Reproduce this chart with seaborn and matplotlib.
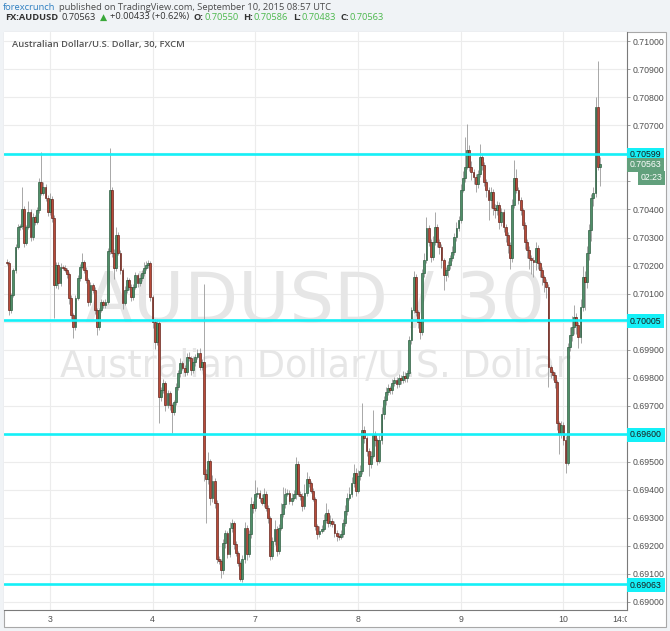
import numpy as np
import pandas as pd
import matplotlib
matplotlib.use("Agg")
import matplotlib.pyplot as plt
import seaborn as sns
from matplotlib.patches import Rectangle
from matplotlib.transforms import Bbox, TransformedBbox
from matplotlib.ticker import FuncFormatter

# ---------------- data (prices in 1e-5 units) ----------------
first_open_pts = 70212
close_pts = [
    70209, 70041, 70095, 70184, 70267, 70338, 70342, 70403, 70281, 70338,
    70392, 70302, 70374, 70356, 70399, 70499, 70460, 70482, 70442, 70392,
    70439, 70371, 70131, 70202, 70138, 70195, 70193, 70184, 70170, 70084,
    70023, 69980, 70084, 70156, 70195, 70213, 70184, 70149, 70070, 70131,
    70113, 70041, 69980, 70041, 70070, 70059, 70070, 70252, 70471, 70245,
    70192, 70310, 70245, 70184, 70066, 70113, 70149, 70123, 70088, 70123,
    70166, 70138, 70156, 70174, 70192, 70202, 70209, 70088, 69998, 69927,
    69995, 69730, 69755, 69780, 69701, 69744, 69701, 69676, 69712, 69766,
    69816, 69851, 69834, 69819, 69873, 69869, 69826, 69855, 69873, 69887,
    69837, 69855, 69458, 69440, 69501, 69372, 69433, 69354, 69153, 69146,
    69114, 69211, 69246, 69171, 69264, 69282, 69207, 69175, 69139, 69082,
    69153, 69264, 69171, 69243, 69350, 69336, 69386, 69390, 69372, 69354,
    69386, 69336, 69300, 69164, 69218, 69261, 69182, 69264, 69314, 69350,
    69386, 69388, 69361, 69372, 69386, 69493, 69386, 69379, 69343, 69390,
    69440, 69425, 69397, 69368, 69271, 69243, 69254, 69261, 69293, 69318,
    69282, 69289, 69279, 69246, 69236, 69232, 69243, 69282, 69325, 69372,
    69386, 69425, 69461, 69397, 69450, 69468, 69612, 69583, 69540, 69493,
    69522, 69594, 69576, 69504, 69576, 69672, 69719, 69748, 69762, 69755,
    69780, 69791, 69776, 69798, 69791, 69805, 69798, 69816, 69934, 70041,
    70159, 70034, 69998, 69962, 70174, 70220, 70335, 70285, 70231, 70285,
    70338, 70285, 70267, 70220, 70166, 70184, 70202, 70227, 70249, 70302,
    70335, 70363, 70471, 70514, 70553, 70614, 70553, 70535, 70517, 70492,
    70525, 70586, 70560, 70499, 70471, 70435, 70464, 70406, 70399, 70417,
    70356, 70392, 70338, 70310, 70274, 70227, 70417, 70514, 70471, 70435,
    70399, 70345, 70285, 70256, 70227, 70220, 70213, 70263, 70209, 70184,
    70159, 70141, 70123, 69837, 69819, 69808, 69783, 69637, 69604, 69630,
    69576, 69497, 69909, 69952, 69980, 70016, 69987, 69944, 70052, 70159,
    70141, 70245, 70328, 70442, 70460, 70764, 70550, 70563,
]
upper_wick_pts = [
    10, 8, 6, 8, 10, 12, 8, 79, 10, 8,
    40, 10, 15, 8, 10, 12, 107, 15, 10, 8,
    20, 8, 10, 12, 10, 15, 8, 10, 6, 8,
    10, 6, 10, 12, 10, 32, 8, 10, 6, 12,
    8, 10, 6, 8, 10, 8, 10, 12, 147, 10,
    15, 29, 8, 10, 8, 15, 10, 8, 10, 12,
    10, 8, 15, 10, 20, 15, 12, 8, 6, 10,
    15, 8, 10, 15, 8, 12, 8, 10, 8, 15,
    12, 20, 8, 10, 15, 18, 8, 20, 12, 15,
    20, 12, 280, 15, 32, 10, 20, 8, 10, 10,
    8, 15, 10, 8, 20, 15, 8, 10, 8, 6,
    15, 20, 10, 15, 25, 10, 50, 20, 10, 12,
    20, 10, 8, 6, 15, 30, 8, 15, 40, 60,
    20, 15, 10, 15, 12, 25, 10, 8, 10, 30,
    25, 10, 8, 10, 6, 8, 15, 12, 20, 36,
    15, 20, 10, 8, 10, 8, 12, 15, 20, 15,
    25, 20, 30, 15, 20, 20, 97, 15, 10, 8,
    15, 90, 15, 10, 20, 25, 15, 20, 15, 10,
    15, 10, 12, 15, 10, 20, 15, 12, 15, 10,
    20, 10, 8, 10, 15, 25, 39, 10, 8, 20,
    54, 10, 8, 10, 6, 10, 15, 12, 20, 15,
    20, 15, 20, 25, 104, 90, 15, 20, 10, 8,
    15, 47, 10, 8, 10, 8, 15, 10, 12, 15,
    10, 15, 8, 10, 8, 10, 20, 64, 30, 10,
    10, 8, 12, 10, 15, 12, 10, 20, 10, 8,
    10, 8, 10, 10, 8, 10, 12, 10, 8, 15,
    10, 15, 15, 30, 40, 45, 15, 10, 30, 40,
    20, 25, 20, 15, 20, 39, 165, 23,
]
lower_wick_pts = [
    8, 18, 10, 8, 10, 8, 12, 10, 15, 8,
    8, 15, 10, 12, 8, 10, 8, 10, 12, 15,
    10, 15, 118, 10, 20, 12, 10, 8, 15, 20,
    15, 40, 10, 8, 10, 8, 12, 10, 15, 10,
    12, 15, 29, 10, 8, 12, 10, 8, 10, 15,
    40, 10, 8, 15, 20, 8, 12, 10, 15, 10,
    8, 15, 10, 12, 10, 8, 10, 15, 20, 25,
    10, 93, 15, 10, 20, 10, 15, 75, 10, 8,
    10, 15, 8, 12, 10, 8, 15, 10, 12, 8,
    10, 8, 25, 158, 20, 25, 15, 20, 15, 10,
    29, 15, 20, 15, 10, 15, 20, 10, 12, 7,
    10, 15, 20, 10, 15, 20, 10, 12, 15, 10,
    15, 10, 20, 15, 10, 15, 20, 10, 8, 10,
    15, 10, 12, 15, 10, 20, 10, 15, 20, 10,
    12, 15, 10, 8, 15, 20, 12, 10, 8, 10,
    15, 10, 12, 15, 20, 10, 8, 12, 10, 15,
    10, 12, 15, 20, 10, 15, 10, 15, 20, 43,
    15, 10, 20, 15, 10, 12, 20, 15, 10, 12,
    15, 10, 12, 10, 15, 10, 12, 15, 10, 15,
    10, 15, 20, 25, 10, 15, 12, 15, 20, 10,
    10, 20, 25, 30, 54, 20, 25, 15, 10, 12,
    15, 10, 12, 10, 15, 10, 15, 30, 25, 30,
    15, 10, 20, 15, 25, 72, 30, 25, 30, 20,
    25, 15, 20, 25, 30, 40, 15, 10, 12, 15,
    20, 15, 25, 30, 40, 50, 54, 30, 20, 25,
    30, 35, 40, 72, 20, 15, 20, 25, 75, 20,
    15, 36, 10, 15, 20, 25, 30, 39, 20, 15,
    100, 20, 25, 40, 30, 15, 10, 67,
]

day_tick_index = [20, 68, 116, 164, 212, 260, 288]
day_tick_labels = ["3", "4", "7", "8", "9", "10", "14:00"]

level_prices = [0.70599, 0.70005, 0.69600, 0.69063]
level_labels = ["0.70599", "0.70005", "0.69600", "0.69063"]
last_price_label = "0.70563"
countdown_label = "02:23"
covered_tick_values = [0.706, 0.705, 0.700, 0.696]

header_line1 = [("forexcrunch", "#2f7fc1"),
                ("published on TradingView.com, September 10, 2015 08:57 UTC", "#4a4a4a")]
header_line2 = [("FX:AUDUSD", "#333333", "bold"), ("0.70563", "#333333", "normal"),
                ("\u25B2", "#3aa83a", "normal"), ("+0.00433 (+0.62%)", "#333333", "normal"),
                ("O:", "#333333", "bold"), ("0.70550", "#4cb84c", "normal"),
                ("H:", "#333333", "bold"), ("0.70586", "#4cb84c", "normal"),
                ("L:", "#333333", "bold"), ("0.70483", "#4cb84c", "normal"),
                ("C:", "#333333", "bold"), ("0.70563", "#4cb84c", "normal")]
line2_gaps = [0, 2.6, 2.6, 2.6, 3.2, 0.6, 3.2, 0.6, 3.2, 0.6, 3.2, 0.6]
chart_title = "Australian Dollar/U.S. Dollar, 30, FXCM"
watermark_big = "AUDUSD / 30"
watermark_small = "Australian Dollar/U.S. Dollar"

assert len(close_pts) == len(upper_wick_pts) == len(lower_wick_pts)

# ---------------- build OHLC ----------------
close = np.array(close_pts) / 1e5
open_ = np.r_[first_open_pts / 1e5, close[:-1]]
high = np.maximum(open_, close) + np.array(upper_wick_pts) / 1e5
low = np.minimum(open_, close) - np.array(lower_wick_pts) / 1e5
df = pd.DataFrame({"idx": np.arange(len(close)), "open": open_, "high": high,
                   "low": low, "close": close})
df["up"] = df["close"] >= df["open"]

# ---------------- style ----------------
sns.set_theme(style="white")
plt.rcParams["font.family"] = ["DejaVu Sans"]

W, H = 670, 631
fig = plt.figure(figsize=(W / 100, H / 100), dpi=100, facecolor="#f0f3f6")


def fx(px):
    return px / W


def fy(py):
    return 1 - py / H


panel = Rectangle((fx(4), fy(627)), fx(666) - fx(4), fy(32) - fy(627),
                  transform=fig.transFigure, fc="white", ec="#a8a8a8", lw=0.8, zorder=0)
fig.add_artist(panel)

ax = fig.add_axes([fx(4), fy(610), fx(627) - fx(4), fy(32) - fy(610)])
ax.set_facecolor("white")
ax.set_xlim(-1.4, 289.7)
ax.set_ylim(0.68971, 0.710333)

# grid
ax.set_yticks(np.round(np.arange(0.690, 0.7105, 0.001), 3))


def tick_fmt(v, pos):
    if any(abs(v - c) < 1e-6 for c in covered_tick_values):
        return ""
    return f"{v:.5f}"


ax.yaxis.set_major_formatter(FuncFormatter(tick_fmt))
ax.grid(axis="y", color="#ececec", lw=0.8, zorder=0.5)
for xi in day_tick_index[:-1]:
    ax.axvline(xi, color="#ececec", lw=0.8, zorder=0.5)

# watermark
ax.text(0.5, 0.498, watermark_big, transform=ax.transAxes, ha="center", va="baseline",
        fontsize=50.4, color="#e6e6e6", family="DejaVu Sans", zorder=0.6)
ax.text(0.5, 0.403, watermark_small, transform=ax.transAxes, ha="center", va="baseline",
        fontsize=26.4, color="#e6e6e6", family="DejaVu Sans", zorder=0.6)

# candles
ax.vlines(df["idx"], df["low"], df["high"], color="#9a9a9a", lw=0.6, zorder=2)
body_bottom = np.minimum(df["open"], df["close"])
body_h = np.maximum(np.abs(df["close"] - df["open"]), 0.000018)
face = np.where(df["up"], "#4f8f68", "#b84b39")
edge = np.where(df["up"], "#245437", "#5b1a13")
ax.bar(df["idx"], body_h, bottom=body_bottom, width=0.86, color=face,
       edgecolor=edge, linewidth=0.45, zorder=3)

# horizontal levels
cyan = "#14f0f7"
for lev, lab in zip(level_prices, level_labels):
    ax.axhline(lev, color=cyan, lw=1.9, zorder=4)
    ax.annotate(lab, xy=(1, lev), xycoords=("axes fraction", "data"),
                xytext=(2.2, 0), textcoords="offset points", ha="left",
                va="center_baseline", fontsize=6.3, family="Liberation Sans",
                color="#1a1a1a", annotation_clip=False, zorder=6,
                bbox=dict(boxstyle="square,pad=0.3", fc=cyan, ec="none"))

last_close = df["close"].iloc[-1]
green_lbl = "#62a07c"
ax.annotate(last_price_label, xy=(1, last_close), xycoords=("axes fraction", "data"),
            xytext=(2.2, 0), textcoords="offset points", ha="left", va="center_baseline",
            fontsize=6.3, family="Liberation Sans", color="white", annotation_clip=False,
            zorder=7, bbox=dict(boxstyle="square,pad=0.3", fc=green_lbl, ec="none"))
ax.annotate(countdown_label, xy=(1, last_close), xycoords=("axes fraction", "data"),
            xytext=(10.0, -9.3), textcoords="offset points", ha="left", va="center_baseline",
            fontsize=6.3, family="Liberation Sans", color="white", annotation_clip=False,
            zorder=7, bbox=dict(boxstyle="square,pad=0.3", fc=green_lbl, ec="none"))

# axes cosmetics
for s in ["top", "left"]:
    ax.spines[s].set_visible(False)
for s in ["right", "bottom"]:
    ax.spines[s].set_color("#7a7a7a")
    ax.spines[s].set_linewidth(0.8)
ax.yaxis.tick_right()
ax.tick_params(axis="y", which="major", right=True, left=False, length=2.5, width=0.6,
               color="#8a8a8a", pad=1.8, labelsize=6.3, labelcolor="#505050")
ax.set_xticks(day_tick_index)
ax.set_xticklabels(day_tick_labels)
ax.tick_params(axis="x", length=0, pad=3.5, labelsize=6.3, labelcolor="#505050")
for lbl in ax.get_yticklabels() + ax.get_xticklabels():
    lbl.set_family("Liberation Sans")
clip = TransformedBbox(Bbox([[0, -1], [1, 1]]), ax.transAxes)
for lbl in ax.get_xticklabels():
    lbl.set_clip_box(clip)
    lbl.set_clip_on(True)

HEAD = ["Open Sans", "DejaVu Sans"]

# header line 1
t1 = []
prev = fig.text(fx(3), fy(9.5), header_line1[0][0], color=header_line1[0][1],
                fontsize=6.6, family=HEAD, va="baseline", ha="left")
t1.append(prev)
for txt, col in header_line1[1:]:
    prev = ax.annotate(txt, xy=(1, 0), xycoords=prev, xytext=(2.4, 0),
                       textcoords="offset points", va="bottom", ha="left",
                       color=col, fontsize=6.6, family=HEAD, annotation_clip=False)
    t1.append(prev)

# header line 2
t2 = []
prev = fig.text(fx(5), fy(19.5), header_line2[0][0], color=header_line2[0][1],
                fontweight=header_line2[0][2], fontsize=6.6, family=HEAD,
                va="baseline", ha="left")
t2.append(prev)
for (txt, col, wt), gap in zip(header_line2[1:], line2_gaps[1:]):
    prev = ax.annotate(txt, xy=(1, 0), xycoords=prev, xytext=(gap, 0),
                       textcoords="offset points", va="bottom", ha="left",
                       color=col, fontweight=wt, fontsize=6.6, family=HEAD,
                       annotation_clip=False)
    t2.append(prev)

# chart title
title = fig.text(fx(12), fy(47), chart_title, color="#555555", fontweight="semibold",
                 fontsize=6.3, family=HEAD, va="baseline", ha="left")


def fit(texts, target_px):
    fig.canvas.draw()
    r = fig.canvas.get_renderer()
    x0 = texts[0].get_window_extent(r).x0
    x1 = texts[-1].get_window_extent(r).x1
    k = target_px / (x1 - x0)
    for t in texts:
        t.set_fontsize(t.get_fontsize() * k)


fit(t1, 330)
fit(t2, 380)
fit([title], 173)

fig.savefig("out.png", dpi=100, facecolor=fig.get_facecolor())
